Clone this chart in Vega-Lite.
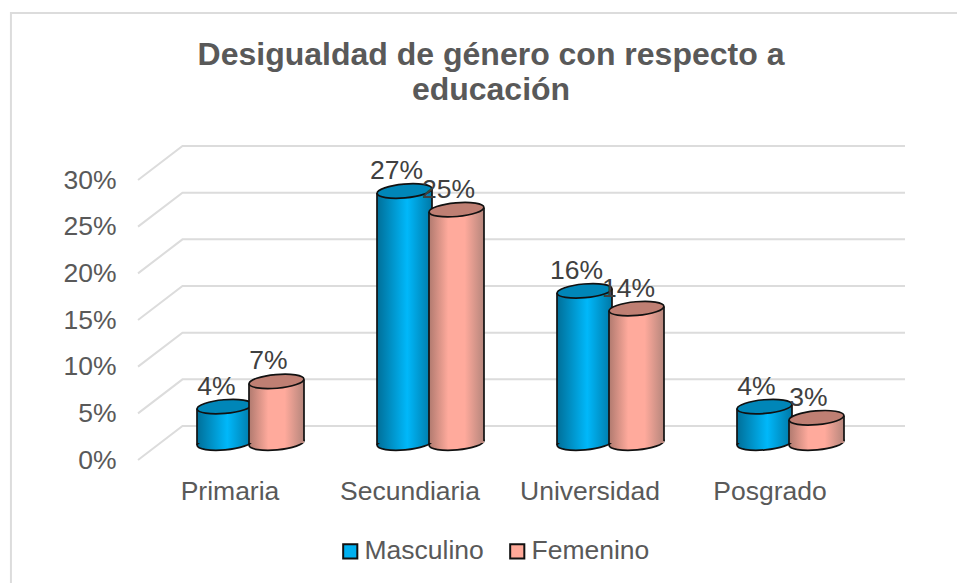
{
"$schema":"https://vega.github.io/schema/vega-lite/v6.json",
"width":720,"height":280,
"padding":{"left":140,"top":180,"right":97,"bottom":123},
"autosize":"none",
"background":"white",
"title":{"text":["Desigualdad de género con respecto a","educación"],"anchor":"middle","frame":"group","font":"Liberation Sans","fontSize":32,"fontWeight":"bold","color":"#595959","lineHeight":35,"dx":-9,"offset":-98},
"config":{"view":{"stroke":null},"font":"Liberation Sans"},
"datasets":{
"valores":[
{"nivel":"Primaria","sexo":"Masculino","v":0.039},
{"nivel":"Secundiaria","sexo":"Masculino","v":0.27},
{"nivel":"Universidad","sexo":"Masculino","v":0.163},
{"nivel":"Posgrado","sexo":"Masculino","v":0.039},
{"nivel":"Primaria","sexo":"Femenino","v":0.066},
{"nivel":"Secundiaria","sexo":"Femenino","v":0.25},
{"nivel":"Universidad","sexo":"Femenino","v":0.144},
{"nivel":"Posgrado","sexo":"Femenino","v":0.027}
],
"rejilla":[
{"linea":"0","px":-0.011,"py":0},{"linea":"0","px":0.236,"py":0.0364},{"linea":"0","px":4.25,"py":0.0364},
{"linea":"5","px":-0.011,"py":0.05},{"linea":"5","px":0.236,"py":0.0864},{"linea":"5","px":4.25,"py":0.0864},
{"linea":"10","px":-0.011,"py":0.1},{"linea":"10","px":0.236,"py":0.1364},{"linea":"10","px":4.25,"py":0.1364},
{"linea":"15","px":-0.011,"py":0.15},{"linea":"15","px":0.236,"py":0.1864},{"linea":"15","px":4.25,"py":0.1864},
{"linea":"20","px":-0.011,"py":0.2},{"linea":"20","px":0.236,"py":0.2364},{"linea":"20","px":4.25,"py":0.2364},
{"linea":"25","px":-0.011,"py":0.25},{"linea":"25","px":0.236,"py":0.2864},{"linea":"25","px":4.25,"py":0.2864},
{"linea":"30","px":-0.011,"py":0.3},{"linea":"30","px":0.236,"py":0.3364},{"linea":"30","px":4.25,"py":0.3364},
{"linea":"marco","px":-0.717,"py":-0.14},{"linea":"marco","px":-0.717,"py":0.479},{"linea":"marco","px":4.54,"py":0.479}
]
},
"layer":[
{"data":{"name":"rejilla"},
 "mark":{"type":"line","color":"#dcdcdc","strokeWidth":2,"clip":false},
 "encoding":{
  "x":{"field":"px","type":"quantitative","axis":null,"scale":{"domain":[0,4],"nice":false,"zero":false}},
  "y":{"field":"py","type":"quantitative","scale":{"domain":[0,0.3],"nice":false},
   "axis":{"title":null,"values":[0,0.05,0.1,0.15,0.2,0.25,0.3],"format":".0%","domain":false,"ticks":false,"grid":false,"labelFontSize":26.5,"labelColor":"#595959","labelPadding":24,"labelFont":"Liberation Sans"}},
  "detail":{"field":"linea"},
  "order":{"field":"px","type":"ordinal"}}},
{"data":{"name":"valores"},
 "encoding":{
  "x":{"field":"nivel","type":"nominal","sort":["Primaria","Secundiaria","Universidad","Posgrado"],"scale":{"padding":0},
   "axis":{"title":null,"labelAngle":0,"domain":false,"ticks":false,"labelFontSize":26.5,"labelColor":"#595959","labelPadding":18,"labelFont":"Liberation Sans"}},
  "y":{"field":"v","type":"quantitative"}
 },
 "layer":[
  {"mark":{"type":"point","filled":true,"size":1,"opacity":1,"yOffset":-17,"clip":false},
   "encoding":{"y":{"datum":0},"fill":{"field":"sexo","type":"nominal","sort":["Masculino","Femenino"],"scale":{"domain":["Masculino","Femenino"],"range":["#00B0F0","#FFA999"]},
     "legend":{"title":null,"orient":"none","legendX":197,"legendY":358,"direction":"horizontal","columns":2,"symbolType":"square","symbolSize":200,"symbolStrokeColor":"#111111","symbolStrokeWidth":2,"symbolOpacity":1,"labelFontSize":26.5,"labelColor":"#595959","labelFont":"Liberation Sans","columnPadding":20,"labelOffset":1}}}},
  {"transform":[{"filter":"datum.sexo==='Masculino'"}],
   "layer":[
    {"mark":{"type":"point","filled":true,"shape":"M-1,0A1,0.25,0,1,1,1,0A1,0.25,0,1,1,-1,0Z","size":3025,"angle":-5,"opacity":1,"stroke":"#111111","strokeWidth":1.7,"yOffset":-17,"xOffset":-5.5,"fill":{"x1":0,"x2":1,"y1":0,"y2":0,"gradient":"linear","stops":[{"offset":0,"color":"#006f99"},{"offset":0.55,"color":"#00b8fa"},{"offset":1,"color":"#0078a6"}]}},
     "encoding":{"y":{"datum":0}}},
    {"mark":{"type":"bar","width":55,"yOffset":-17,"y2Offset":-17,"xOffset":-5.5,"fill":{"x1":0,"x2":1,"y1":0,"y2":0,"gradient":"linear","stops":[{"offset":0,"color":"#006f99"},{"offset":0.55,"color":"#00b8fa"},{"offset":1,"color":"#0078a6"}]}}},
    {"mark":{"type":"rule","stroke":"#111111","strokeWidth":1.7,"xOffset":-33,"yOffset":-15,"y2Offset":-15},"encoding":{"y2":{"datum":0}}},
    {"mark":{"type":"rule","stroke":"#111111","strokeWidth":1.7,"xOffset":22,"yOffset":-19,"y2Offset":-19},"encoding":{"y2":{"datum":0}}},
    {"mark":{"type":"point","filled":true,"shape":"M-1,0A1,0.25,0,1,1,1,0A1,0.25,0,1,1,-1,0Z","size":3025,"angle":-5,"opacity":1,"stroke":"#111111","strokeWidth":1.7,"fill":"#0086b8","yOffset":-17,"xOffset":-5.5}}
   ]},
  {"transform":[{"filter":"datum.sexo==='Femenino'"}],
   "layer":[
    {"mark":{"type":"point","filled":true,"shape":"M-1,0A1,0.25,0,1,1,1,0A1,0.25,0,1,1,-1,0Z","size":3025,"angle":-5,"opacity":1,"stroke":"#111111","strokeWidth":1.7,"yOffset":-17,"xOffset":46.5,"fill":{"x1":0,"x2":1,"y1":0,"y2":0,"gradient":"linear","stops":[{"offset":0,"color":"#b07a6f"},{"offset":0.35,"color":"#ffaa9c"},{"offset":0.65,"color":"#ffaa9c"},{"offset":1,"color":"#b5867c"}]}},
     "encoding":{"y":{"datum":0}}},
    {"mark":{"type":"bar","width":55,"yOffset":-17,"y2Offset":-17,"xOffset":46.5,"fill":{"x1":0,"x2":1,"y1":0,"y2":0,"gradient":"linear","stops":[{"offset":0,"color":"#b07a6f"},{"offset":0.35,"color":"#ffaa9c"},{"offset":0.65,"color":"#ffaa9c"},{"offset":1,"color":"#b5867c"}]}}},
    {"mark":{"type":"rule","stroke":"#111111","strokeWidth":1.7,"xOffset":19,"yOffset":-15,"y2Offset":-15},"encoding":{"y2":{"datum":0}}},
    {"mark":{"type":"rule","stroke":"#111111","strokeWidth":1.7,"xOffset":74,"yOffset":-19,"y2Offset":-19},"encoding":{"y2":{"datum":0}}},
    {"mark":{"type":"point","filled":true,"shape":"M-1,0A1,0.25,0,1,1,1,0A1,0.25,0,1,1,-1,0Z","size":3025,"angle":-5,"opacity":1,"stroke":"#111111","strokeWidth":1.7,"fill":"#bf7f73","yOffset":-17,"xOffset":46.5}}
   ]},
  {"transform":[{"filter":"datum.sexo==='Masculino'"}],"mark":{"type":"text","fontSize":26.5,"color":"#404040","font":"Liberation Sans","align":"center","baseline":"middle","dx":-13.5,"dy":-37},
   "encoding":{"text":{"field":"v","type":"quantitative","format":".0%"}}},
  {"transform":[{"filter":"datum.sexo==='Femenino'"}],"mark":{"type":"text","fontSize":26.5,"color":"#404040","font":"Liberation Sans","align":"center","baseline":"middle","dx":38.5,"dy":-37},
   "encoding":{"text":{"field":"v","type":"quantitative","format":".0%"}}}
 ]}
],
"resolve":{"scale":{"x":"independent"}}
}
